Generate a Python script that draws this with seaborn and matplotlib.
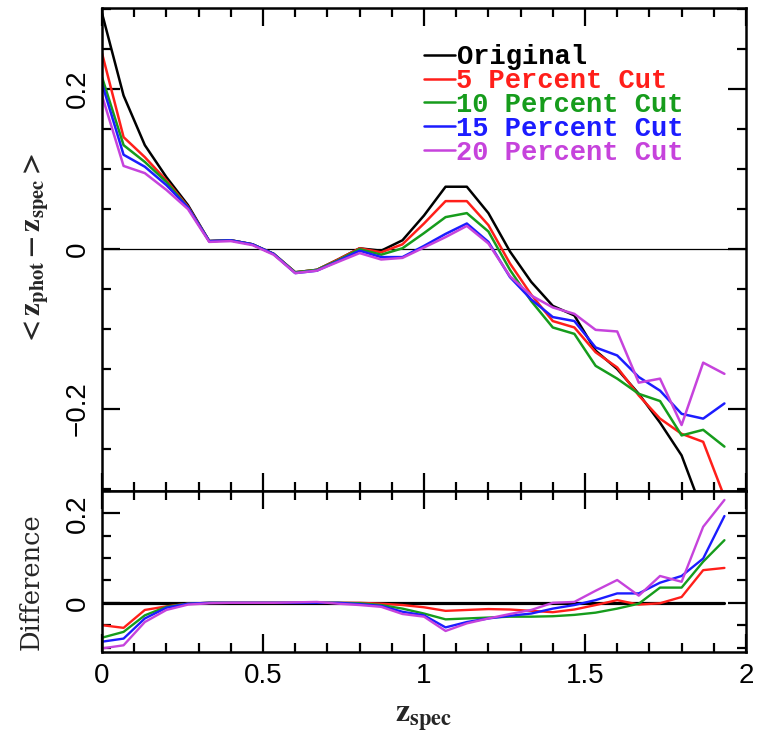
import matplotlib
matplotlib.use("Agg")
import matplotlib.pyplot as plt
from matplotlib.ticker import MultipleLocator, FuncFormatter
import seaborn as sns
import pandas as pd

# ---- data ----
z_spec = [0.000, 0.067, 0.133, 0.200, 0.267, 0.333, 0.400, 0.467, 0.533, 0.600,
          0.667, 0.733, 0.800, 0.867, 0.933, 1.000, 1.067, 1.133, 1.200, 1.267,
          1.333, 1.400, 1.467, 1.533, 1.600, 1.667, 1.733, 1.800, 1.867, 1.933]

series_names = ["Original", "5 Percent Cut", "10 Percent Cut", "15 Percent Cut", "20 Percent Cut"]
series_colors = ["#000000", "#ff1f1a", "#169c1c", "#1c1cff", "#c643dc"]

original = [0.295, 0.192, 0.130, 0.090, 0.055, 0.010, 0.011, 0.006, -0.006, -0.029,
            -0.026, -0.013, 0.001, -0.002, 0.011, 0.042, 0.078, 0.078, 0.045, -0.003,
            -0.041, -0.071, -0.083, -0.127, -0.150, -0.181, -0.217, -0.258, -0.330, -0.400]
cut5 = [0.245, 0.140, 0.115, 0.086, 0.053, 0.010, 0.011, 0.006, -0.006, -0.029,
        -0.026, -0.013, 0.001, -0.004, 0.006, 0.032, 0.060, 0.060, 0.030, -0.018,
        -0.057, -0.090, -0.098, -0.129, -0.148, -0.183, -0.212, -0.231, -0.241, -0.310]
cut10 = [0.215, 0.130, 0.109, 0.084, 0.052, 0.010, 0.011, 0.006, -0.006, -0.029,
         -0.026, -0.014, 0.000, -0.007, 0.001, 0.020, 0.040, 0.045, 0.022, -0.026,
         -0.065, -0.098, -0.106, -0.146, -0.162, -0.181, -0.190, -0.233, -0.226, -0.247]
cut15 = [0.207, 0.118, 0.103, 0.080, 0.052, 0.010, 0.011, 0.006, -0.006, -0.030,
         -0.027, -0.015, -0.002, -0.010, -0.010, 0.004, 0.019, 0.032, 0.009, -0.035,
         -0.063, -0.085, -0.090, -0.123, -0.133, -0.160, -0.177, -0.206, -0.212, -0.193]
cut20 = [0.192, 0.104, 0.095, 0.074, 0.050, 0.009, 0.010, 0.005, -0.007, -0.030,
         -0.027, -0.016, -0.005, -0.013, -0.011, 0.002, 0.015, 0.029, 0.007, -0.034,
         -0.058, -0.073, -0.081, -0.101, -0.103, -0.167, -0.162, -0.220, -0.142, -0.156]

diff_original = [0.0] * 30
diff5 = [-0.050, -0.056, -0.016, -0.008, -0.002, 0.000, 0.000, 0.000, 0.000, 0.000,
         0.000, 0.000, 0.000, -0.002, -0.005, -0.010, -0.018, -0.016, -0.014, -0.015,
         -0.018, -0.021, -0.015, -0.005, 0.006, -0.004, -0.001, 0.013, 0.073, 0.078]
diff10 = [-0.078, -0.065, -0.028, -0.009, -0.002, 0.000, 0.000, 0.000, 0.000, 0.000,
          0.000, 0.000, -0.001, -0.005, -0.013, -0.024, -0.037, -0.035, -0.033, -0.031,
          -0.031, -0.030, -0.027, -0.022, -0.013, -0.002, 0.034, 0.034, 0.092, 0.140]
diff15 = [-0.087, -0.080, -0.035, -0.011, -0.002, 0.000, 0.000, 0.000, 0.000, 0.000,
          0.000, 0.000, -0.003, -0.007, -0.020, -0.028, -0.055, -0.043, -0.035, -0.029,
          -0.024, -0.013, -0.005, 0.006, 0.021, 0.021, 0.045, 0.060, 0.099, 0.194]
diff20 = [-0.102, -0.095, -0.043, -0.016, -0.004, -0.001, 0.000, 0.000, 0.000, 0.001,
          0.002, -0.002, -0.005, -0.009, -0.025, -0.031, -0.063, -0.046, -0.035, -0.025,
          -0.016, 0.000, 0.002, 0.027, 0.051, 0.016, 0.060, 0.047, 0.170, 0.230]

top_series = [original, cut5, cut10, cut15, cut20]
bottom_series = [diff_original, diff5, diff10, diff15, diff20]

df_top = pd.DataFrame({
    "z": z_spec * 5,
    "value": [v for s in top_series for v in s],
    "series": [n for n in series_names for _ in z_spec],
})
df_bot = pd.DataFrame({
    "z": z_spec * 5,
    "value": [v for s in bottom_series for v in s],
    "series": [n for n in series_names for _ in z_spec],
})
palette = dict(zip(series_names, series_colors))

# ---- styling ----
sns.set_theme(style="ticks")
plt.rcParams["font.family"] = ["Liberation Sans", "DejaVu Sans"]
plt.rcParams["mathtext.fontset"] = "stix"
plt.rcParams["axes.linewidth"] = 1.8

W, H = 758, 736
fig = plt.figure(figsize=(W / 100, H / 100), dpi=100)
left, right = 102 / W, 746 / W
ax_top = fig.add_axes([left, 1 - 491 / H, right - left, (491 - 8) / H])
ax_bot = fig.add_axes([left, 1 - 652 / H, right - left, (652 - 491) / H])

sns.lineplot(data=df_top, x="z", y="value", hue="series", palette=palette,
             hue_order=series_names, estimator=None, sort=False, linewidth=1.8,
             ax=ax_top)
ax_top.axhline(0, color="black", linewidth=0.9, zorder=0)

sns.lineplot(data=df_bot, x="z", y="value", hue="series", palette=palette,
             hue_order=series_names, estimator=None, sort=False, linewidth=1.7,
             legend=False, ax=ax_bot)
# thicker zero line for the original in the difference panel
for line in ax_bot.get_lines():
    if all(v == 0 for v in line.get_ydata()):
        line.set_linewidth(2.3)

fmt = FuncFormatter(lambda v, p: f"{v:g}".replace("-", "\u2212"))

for ax in (ax_top, ax_bot):
    ax.set_xlim(0, 2)
    ax.xaxis.set_major_locator(MultipleLocator(0.5))
    ax.xaxis.set_minor_locator(MultipleLocator(0.1))
    ax.yaxis.set_major_locator(MultipleLocator(0.2))
    ax.yaxis.set_minor_locator(MultipleLocator(0.05))
    ax.tick_params(which="both", direction="in", top=True, right=True,
                   width=1.6, colors="black")
    ax.tick_params(which="major", length=13)
    ax.tick_params(which="minor", length=6.5)
    ax.tick_params(axis="both", labelsize=20, pad=8)
    ax.yaxis.set_major_formatter(fmt)
    for sp in ax.spines.values():
        sp.set_color("black")
        sp.set_linewidth(1.8)

ax_top.set_ylim(-0.3025, 0.3015)
ax_bot.set_ylim(-0.11, 0.25)
ax_top.tick_params(axis="x", labelbottom=False)
ax_bot.xaxis.set_major_formatter(fmt)
for ax in (ax_top, ax_bot):
    plt.setp(ax.get_yticklabels(), rotation=90, va="center")

ax_top.set_xlabel("")
ax_top.set_ylabel(r"$\mathbf{<z_{phot}-z_{spec}>}$", fontsize=21)
ax_top.yaxis.set_label_coords(-0.081, 0.5)

ax_bot.set_ylabel("Difference", fontsize=18.5, family="DejaVu Serif")
ax_bot.yaxis.set_label_coords(-0.09, 0.44)
ax_bot.set_xlabel(r"$\mathbf{z_{spec}}$", fontsize=23)
ax_bot.xaxis.set_label_coords(0.5, -0.32)

leg = ax_top.legend(loc="upper left", bbox_to_anchor=(0.50, 0.925), frameon=False,
                    prop={"family": "Liberation Mono", "size": 19.5, "weight": "bold"},
                    handlelength=1.15, handletextpad=0.05, labelspacing=-0.08,
                    borderpad=0, borderaxespad=0, labelcolor="linecolor", title=None)
for h in leg.get_lines():
    h.set_linewidth(1.8)

fig.savefig("out.png", dpi=100)
